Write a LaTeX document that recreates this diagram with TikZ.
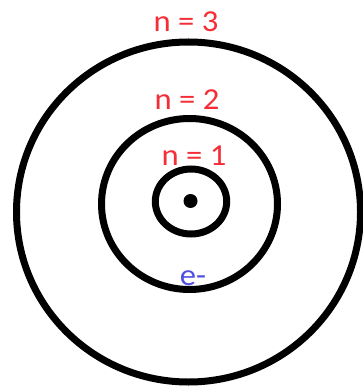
\documentclass[tikz,border=0pt]{standalone}
\usepackage{fontspec}
\setmainfont{Carlito}
\definecolor{lblred}{RGB}{245,45,55}
\definecolor{lblblue}{RGB}{80,80,225}
\begin{document}
\begin{tikzpicture}[x=1pt,y=-1pt,
  orbit/.style={draw=black,line width=7pt},
  lbl/.style={inner sep=0pt,anchor=base,font=\fontsize{30.5}{31}\selectfont,xscale=1.07}]
\useasboundingbox[fill=white] (0,0) rectangle (362,387);
\draw[orbit] (188.5,212) ellipse [x radius=172, y radius=170];
\draw[orbit] (189.5,204) ellipse [x radius=88, y radius=85.5];
\draw[orbit] (191,201.5) ellipse [x radius=35.7, y radius=32.5];
\fill[black] (190.5,201) circle [radius=7];
\node[lbl,text=lblred] (n3) at (186,32) {n = 3};
\node[lbl,text=lblred] (n2) at (187,110) {n = 2};
\node[lbl,text=lblred] (n1) at (194,165) {n = 1};
\node[lbl,text=lblblue] (e) at (193,285) {e-};
\end{tikzpicture}
\end{document}
